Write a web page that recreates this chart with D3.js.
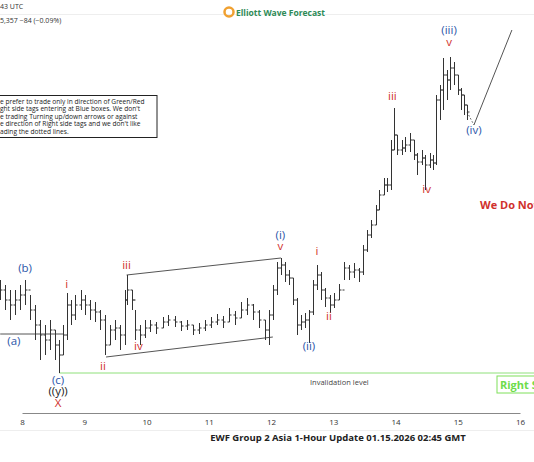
<!DOCTYPE html>
<html><head><meta charset="utf-8">
<script src="https://cdn.jsdelivr.net/npm/d3@7"></script>
<style>body{margin:0;background:#fff;overflow:hidden}text{font-family:"Open Sans",sans-serif}</style>
</head><body><div class="c_chart"></div>
<script>
/*DATA
------------------------------------------------------
*/
// bars: [day, high, low, close], open = previous close
const bars = [
[7.65,52600,52400,52500],[7.73,52550,52300,52400],[7.81,52500,52200,52350],[7.89,52500,52250,52400],
[7.97,52550,52300,52450],[8.05,52600,52350,52500],[8.13,52450,52200,52300],[8.21,52350,52000,52150],
[8.29,52200,51800,52050],[8.37,52150,51850,52000],[8.45,52200,51900,52100],[8.53,52100,51800,51950],
[8.60,52000,51670,51850],[8.66,52150,51850,52050],[8.73,52470,52000,52350],[8.79,52400,52150,52250],
[8.85,52450,52200,52350],[8.94,52500,52300,52400],[9.02,52450,52250,52350],[9.10,52400,52200,52300],
[9.18,52380,52180,52280],[9.26,52300,52100,52200],[9.34,52250,51850,51950],[9.42,52150,51950,52100],
[9.50,52200,52000,52120],[9.58,52150,51900,52050],[9.65,52500,51950,52400],[9.69,52650,52350,52500],
[9.76,52500,52300,52400],[9.82,52300,52000,52100],[9.89,52150,51950,52050],[9.97,52200,52020,52120],
[10.06,52200,52080,52150],[10.16,52180,52060,52120],[10.26,52230,52120,52180],[10.35,52250,52140,52200],
[10.45,52240,52130,52180],[10.55,52190,52090,52140],[10.65,52200,52100,52150],[10.74,52150,52050,52100],
[10.84,52170,52060,52120],[10.94,52200,52090,52150],[11.03,52230,52120,52180],[11.13,52260,52150,52200],
[11.23,52240,52120,52180],[11.32,52320,52180,52250],[11.42,52290,52150,52220],[11.52,52380,52220,52300],
[11.61,52420,52250,52350],[11.71,52360,52200,52280],[11.81,52300,52120,52200],[11.90,52200,52000,52100],
[11.97,52300,51950,52250],[12.03,52550,52200,52500],[12.10,52780,52450,52720],[12.16,52820,52650,52750],
[12.23,52780,52580,52650],[12.29,52700,52550,52620],[12.35,52620,52350,52400],[12.42,52420,52050,52150],
[12.48,52250,52100,52180],[12.55,52270,52120,52200],[12.61,52300,51970,52280],[12.68,52600,52250,52550],
[12.74,52750,52500,52650],[12.81,52680,52400,52500],[12.87,52520,52330,52420],[12.94,52450,52270,52350],
[13.02,52470,52320,52400],[13.10,52560,52400,52500],[13.18,52780,52600,52720],[13.26,52750,52600,52680],
[13.34,52770,52620,52700],[13.42,52720,52580,52680],[13.48,52950,52650,52900],[13.55,53100,52880,53050],
[13.61,53200,53020,53150],[13.68,53350,53150,53300],[13.74,53500,53300,53450],[13.81,53620,53450,53550],
[13.87,53620,53480,53550],[13.92,54000,53500,53900],[13.97,54320,53900,54050],[14.03,54050,53850,53900],
[14.10,54000,53850,53920],[14.16,54030,53880,53950],[14.23,54070,53880,54000],[14.29,54000,53800,53850],
[14.35,53870,53650,53780],[14.42,53900,53750,53820],[14.48,53850,53500,53750],[14.55,53870,53720,53800],
[14.61,53850,53700,53770],[14.65,54450,53750,54400],[14.71,54550,54200,54500],[14.76,54820,54300,54650],
[14.82,54700,54400,54600],[14.87,54830,54500,54720],[14.94,54780,54550,54650],[15.00,54650,54450,54500],
[15.05,54520,54300,54450],[15.10,54450,54250,54350],[15.15,54350,54200,54280]
];
const firstOpen = 52550;
const dayTicks = [8,9,10,11,12,13,14,15,16];
const invalidation = 51670;
const aLevel = [[7.65,52060],[8.66,52060]];
const channelTop = [[9.68,52650],[12.16,52820]];
const channelBottom = [[9.35,51830],[12.03,52030]];
const projDotted = [[15.15,54280],[15.26,54150]];
const projSolid = [[15.26,54150],[15.87,55100]];
// labels: [text, day, price, color]
const waveLabels = [
["(a)",7.87,51950,"#2c55a8"],["(b)",8.05,52680,"#2c55a8"],["(c)",8.58,51560,"#2c55a8"],
["((y))",8.58,51450,"#222"],["X",8.58,51330,"#d0312d"],["i",8.72,52520,"#d0312d"],
["ii",9.30,51700,"#d0312d"],["iii",9.68,52710,"#d0312d"],["iv",9.87,51900,"#d0312d"],
["v",12.15,52900,"#d0312d"],["(i)",12.15,53010,"#2c55a8"],["(ii)",12.61,51900,"#2c55a8"],
["i",12.74,52850,"#d0312d"],["ii",12.93,52200,"#d0312d"],["iii",13.95,54400,"#d0312d"],
["iv",14.50,53470,"#d0312d"],["v",14.86,54940,"#d0312d"],["(iii)",14.86,55060,"#2c55a8"],
["(iv)",15.26,54060,"#2c55a8"]
];

/*SVG
------------------------------------------------------
*/
const width = 534, height = 462;
const svg = d3.select(".c_chart").append("svg").attr("width",width).attr("height",height);

const x = d3.scaleLinear().domain([8,16]).range([22,520]);
const y = d3.scaleLinear().domain([51670,54830]).range([373,57]);

// header
svg.append("line").attr("x1",0).attr("x2",width).attr("y1",14.5).attr("y2",14.5).attr("stroke","#eee");
svg.append("text").attr("x",0).attr("y",9).attr("font-size",7).attr("fill","#333").text("43 UTC");
svg.append("text").attr("x",0).attr("y",23).attr("font-size",7).attr("fill","#333").text("5,357  −84 (−0.09%)");
svg.append("circle").attr("cx",229).attr("cy",12).attr("r",4.5).attr("fill","none").attr("stroke","#f0a030").attr("stroke-width",2.5);
svg.append("text").attr("x",236).attr("y",15.5).attr("font-size",8.5).attr("font-weight","bold")
	.attr("font-family","Liberation Sans").attr("fill","#2e8b57").text("Elliott Wave Forecast");

// note box
svg.append("rect").attr("x",-2).attr("y",95.5).attr("width",159).attr("height",42).attr("fill","#fff").attr("stroke","#222");
["e prefer to trade only in direction of Green/Red","ght side tags entering at Blue boxes. We don't",
 "e trading Turning up/down arrows or against","e direction of Right side tags and we don't like",
 "ading the dotted lines."].forEach((t,i)=>
	svg.append("text").attr("x",0).attr("y",104+i*7.4).attr("font-size",6.6).attr("fill","#222").text(t));

// axis
svg.append("g").attr("transform","translate(0,413)")
	.call(d3.axisBottom(x).tickValues(dayTicks).tickSize(0).tickPadding(6))
	.call(g=>g.select(".domain").attr("stroke","#888"))
	.call(g=>g.selectAll("text").attr("font-size",8).attr("fill","#333"));
svg.append("line").attr("x1",0).attr("x2",width).attr("y1",430.5).attr("y2",430.5).attr("stroke","#eee");
svg.append("text").attr("x",338).attr("y",441).attr("text-anchor","middle").attr("font-size",9.5)
	.attr("font-weight","bold").attr("font-family","Liberation Sans").attr("fill","#222")
	.text("EWF Group 2 Asia 1-Hour Update 01.15.2026 02:45 GMT");

// invalidation
svg.append("line").attr("x1",x(8.60)).attr("x2",width).attr("y1",y(invalidation)).attr("y2",y(invalidation))
	.attr("stroke","#8fe07a").attr("stroke-width",1);
svg.append("text").attr("x",310).attr("y",385).attr("font-size",7.5).attr("fill","#444").text("Invalidation level");
svg.append("rect").attr("x",497).attr("y",376).attr("width",40).attr("height",17).attr("fill","none").attr("stroke","#7ee05a");
svg.append("text").attr("x",500).attr("y",389).attr("font-size",11).attr("font-weight","bold").attr("fill","#6ddc4a").text("Right S");

// guide lines
const line = d3.line().x(d=>x(d[0])).y(d=>y(d[1]));
[aLevel,channelTop,channelBottom,projSolid].forEach(p=>
	svg.append("path").attr("d",line(p)).attr("fill","none").attr("stroke","#555").attr("stroke-width",1));
svg.append("path").attr("d",line(projDotted)).attr("fill","none").attr("stroke","#555").attr("stroke-dasharray","1.5,2");

// OHLC bars
const g = svg.append("g").attr("stroke","#333").attr("stroke-width",1);
bars.forEach((b,i)=>{
	const o = i===0 ? firstOpen : bars[i-1][3];
	const cx = Math.round(x(b[0]))+0.5;
	g.append("line").attr("x1",cx).attr("x2",cx).attr("y1",y(b[1])).attr("y2",y(b[2]));
	g.append("line").attr("x1",cx-2).attr("x2",cx).attr("y1",y(o)).attr("y2",y(o));
	g.append("line").attr("x1",cx).attr("x2",cx+2).attr("y1",y(b[3])).attr("y2",y(b[3]));
});

// wave labels
svg.selectAll("text.wave").data(waveLabels).enter().append("text").attr("class","wave")
	.attr("x",d=>x(d[1])).attr("y",d=>y(d[2])).attr("text-anchor","middle")
	.attr("font-size",11.5).attr("fill",d=>d[3]).text(d=>d[0]);

svg.append("text").attr("x",480).attr("y",209).attr("font-size",11).attr("font-weight","bold")
	.attr("fill","#d0312d").text("We Do Not");
</script></body></html>
